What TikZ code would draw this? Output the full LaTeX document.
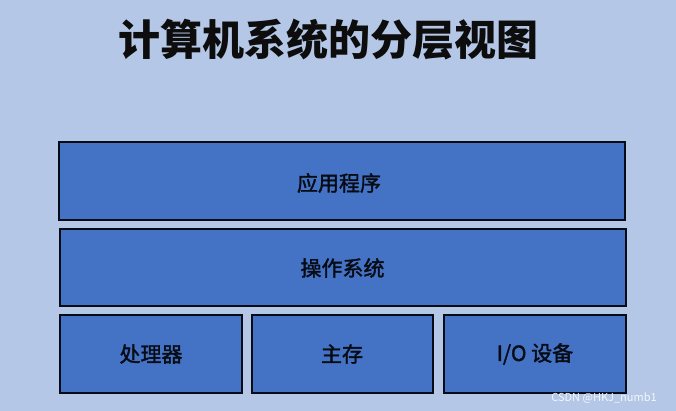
\documentclass[tikz,border=0pt]{standalone}
\usepackage{fontspec}
\setmainfont{Noto Sans CJK SC}
\newfontfamily\cjk{Noto Sans CJK SC}
\newfontfamily\cjkmed[FakeBold=1.6]{Noto Sans CJK SC}
\definecolor{bgc}{HTML}{B4C7E7}
\definecolor{boxc}{HTML}{4472C4}
\begin{document}
\begin{tikzpicture}[x=1pt,y=-1pt,
  layerbox/.style={draw=black!90!boxc,line width=2.2pt,fill=boxc,inner sep=0pt},
  lbl/.style={font=\cjkmed\fontsize{21}{24}\selectfont,text=black!90!boxc}]
\fill[bgc] (0,0) rectangle (676,411);
\useasboundingbox (0,0) rectangle (676,411);
\node[font=\cjk\bfseries\fontsize{42}{48}\selectfont,text=black!95] (title) at (328.5,40) {计算机系统的分层视图};
\draw[layerbox] (59,142) rectangle (625,220);
\draw[layerbox] (60,229) rectangle (626,306);
\draw[layerbox] (60,315) rectangle (242,393);
\draw[layerbox] (252,315) rectangle (433,393);
\draw[layerbox] (444,315) rectangle (626,393);
\node[lbl] (app) at (339,183) {应用程序};
\node[lbl] (os) at (342.5,268) {操作系统};
\node[lbl] (cpu) at (151,354) {处理器};
\node[lbl] (mem) at (342,354) {主存};
\node[lbl] (io) at (535,354) {I/O 设备};
\node[font=\cjk\fontsize{11}{13}\selectfont,text=white!85!bgc] (wm) at (604,398) {CSDN @HKJ\_numb1};
\end{tikzpicture}
\end{document}
